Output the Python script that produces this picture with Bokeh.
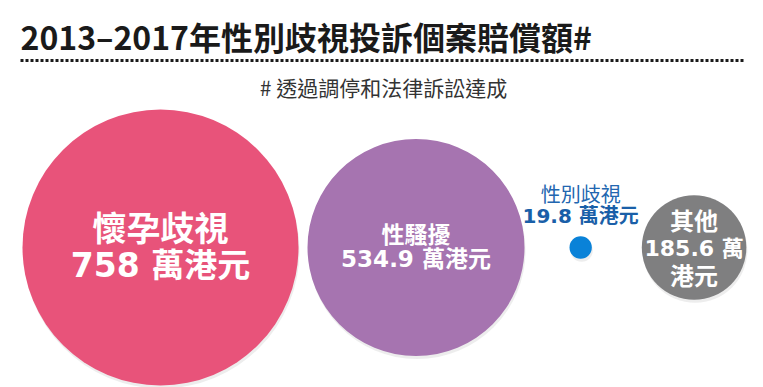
from bokeh.plotting import figure
from bokeh.models import Range1d, ColumnDataSource
from bokeh.core.properties import value
from bokeh.embed import file_html
from bokeh.resources import INLINE

# ---- data ----
categories = ["懷孕歧視", "性騷擾", "性別歧視", "其他"]
amounts = [758, 534.9, 19.8, 185.6]          # 萬港元
amount_labels = ["758 萬港元", "534.9 萬港元", "19.8 萬港元", "185.6 萬港元"]
title_text = "2013–2017年性別歧視投訴個案賠償額#"
subtitle_text = "# 透過調停和法律訴訟達成"

# ---- styles / layout ----
colors = ["#E8537A", "#A674B0", "#0A82D8", "#7F7F80"]
W, H = 763, 387
CJK = "Noto Sans CJK TC"
MIX = "'DejaVu Sans', 'Noto Sans CJK TC'"
max_r = 138.0
expo = 0.69
left_edge = 22
gaps = [9, 45, 50]
base_y = 247

radii = [max_r * (a / max(amounts)) ** expo for a in amounts]
xs = []
for i, r in enumerate(radii):
    if i == 0:
        xs.append(left_edge + r)
    else:
        xs.append(xs[-1] + radii[i - 1] + gaps[i - 1] + r)
ys = [base_y] * len(amounts)

p = figure(width=W, height=H, output_backend="svg", toolbar_location=None,
           x_range=Range1d(0, W), y_range=Range1d(H, 0),
           min_border=0, outline_line_color=None)
p.axis.visible = False
p.grid.visible = False
p.background_fill_color = "white"
p.border_fill_color = "white"

src = ColumnDataSource(dict(x=xs, y=ys, r=radii, c=colors,
                            sx=[x + 1 for x in xs], sy=[y + 3 for y in ys]))
# soft shadows
p.circle(x="sx", y="sy", radius="r", source=src, fill_color="#9a9a9a",
         fill_alpha=0.18, line_color=None)
p.circle(x="x", y="y", radius="r", source=src, fill_color="c",
         line_color=None)

# title, rule, subtitle
p.text(x=[20], y=[35], text=[title_text], text_font=value(CJK),
       text_font_style="bold", text_font_size="32px", text_color="#1a1a1a",
       text_align="left", text_baseline="middle")
p.line(x=[20, 745], y=[60, 60], line_color="#1a1a1a", line_width=3,
       line_dash="3 2")
p.text(x=[383], y=[86], text=[subtitle_text], text_font=value(CJK),
       text_font_size="21px", text_color="#333333",
       text_align="center", text_baseline="middle")

# labels inside pink circle
p.text(x=[xs[0]], y=[226], text=[categories[0]], text_font=value(CJK),
       text_font_style="bold", text_font_size="34px", text_color="white",
       text_align="center", text_baseline="middle")
p.text(x=[xs[0]], y=[265], text=[amount_labels[0]], text_font=value(MIX),
       text_font_style="bold", text_font_size="33px", text_color="white",
       text_align="center", text_baseline="middle")

# purple
p.text(x=[xs[1]], y=[232], text=[categories[1]], text_font=value(CJK),
       text_font_style="bold", text_font_size="23px", text_color="white",
       text_align="center", text_baseline="middle")
p.text(x=[xs[1]], y=[258], text=[amount_labels[1]], text_font=value(MIX),
       text_font_style="bold", text_font_size="23px", text_color="white",
       text_align="center", text_baseline="middle")

# blue (label above dot)
p.text(x=[xs[2]], y=[193], text=[categories[2]], text_font=value(CJK),
       text_font_size="20px", text_color="#2266B0",
       text_align="center", text_baseline="middle")
p.text(x=[xs[2]], y=[215], text=[amount_labels[2]], text_font=value(MIX),
       text_font_style="bold", text_font_size="20px", text_color="#1A5FA8",
       text_align="center", text_baseline="middle")

# gray
p.text(x=[xs[3]], y=[219], text=[categories[3]], text_font=value(CJK),
       text_font_style="bold", text_font_size="24px", text_color="white",
       text_align="center", text_baseline="middle")
p.text(x=[xs[3]], y=[248], text=[amount_labels[3].split(" ")[0] + " 萬"],
       text_font=value(MIX), text_font_style="bold", text_font_size="22px",
       text_color="white", text_align="center", text_baseline="middle")
p.text(x=[xs[3]], y=[274], text=["港元"], text_font=value(CJK),
       text_font_style="bold", text_font_size="24px", text_color="white",
       text_align="center", text_baseline="middle")

open("out.html", "w").write(file_html(p, INLINE))
